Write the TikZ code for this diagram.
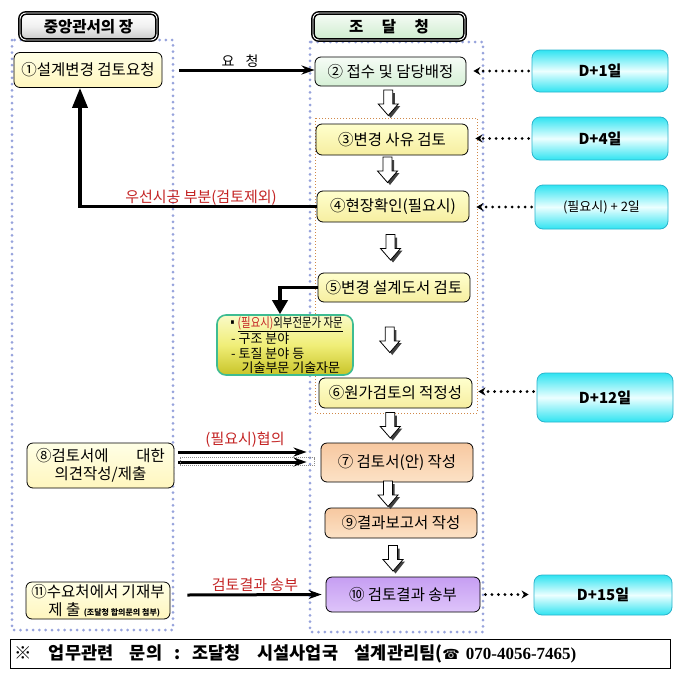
\documentclass[tikz,border=0pt]{standalone}
\usepackage{fontspec}
\setmainfont{Noto Sans CJK KR}
\newfontfamily\serifb{Liberation Serif}
\newfontfamily\symf{DejaVu Sans}
\usetikzlibrary{arrows.meta,calc}
\definecolor{dotblue}{HTML}{97A3DC}
\definecolor{dotorange}{HTML}{D08848}
\definecolor{cyanE}{HTML}{2FE3F1}
\definecolor{cyanB}{HTML}{2AB4CC}
\definecolor{labred}{HTML}{C42424}
\definecolor{grnB}{HTML}{3EBC92}
\tikzset{
  box/.style={draw=black, line width=0.8pt, rounded corners=6pt, align=center, inner sep=0pt,
              font=\fontsize{15.5}{18}\selectfont},
  pale/.style={box, top color={rgb,255:red,255;green,255;blue,230}, bottom color={rgb,255:red,255;green,246;blue,190}},
  ylw/.style={box, top color={rgb,255:red,255;green,255;blue,205}, bottom color={rgb,255:red,246;green,238;blue,160}},
  grn/.style={box, top color={rgb,255:red,246;green,252;blue,246}, bottom color={rgb,255:red,214;green,240;blue,214}},
  org/.style={box, top color={rgb,255:red,247;green,200;blue,160}, bottom color={rgb,255:red,252;green,226;blue,198}},
  prp/.style={box, top color={rgb,255:red,198;green,158;blue,242}, bottom color={rgb,255:red,222;green,196;blue,250}},
  cyanbox/.style={draw=cyanB, line width=0.8pt, rounded corners=8pt, align=center, inner sep=0pt,
              top color=cyanE, bottom color=cyanE, middle color={rgb,255:red,236;green,255;blue,255},
              font=\fontsize{15}{18}\selectfont\bfseries},
  header/.style={draw=black, line width=1.5pt, double=white, double distance=0.9pt, rounded corners=6pt,
              inner sep=0pt, font=\fontsize{15.5}{18}\selectfont\bfseries},
  dotcol/.style={dotblue, line width=3pt, line cap=round, dash pattern=on 0pt off 6.3pt},
  dotarrow/.style={line width=3.2pt, line cap=round, dash pattern=on 0pt off 6.5pt,
              -{Stealth[length=7pt,width=8pt]}},
  flowarrow/.style={line width=3pt, -{Stealth[length=13pt,width=9pt]}},
  bigarrow/.style={line width=3.6pt, -{Triangle[length=20pt,width=15pt]}},
  redlab/.style={text=labred, font=\fontsize{15}{17}\selectfont, inner sep=1pt},
  dnarrow/.pic={
    \fill[black!75] (-1.5,-10) -- (6.5,-10) -- (6.5,3) -- (12,3) -- (2.5,15) -- (-7,3) -- (-1.5,3) -- cycle;
    \draw[fill=white, line width=0.8pt, line join=miter] (-4.5,-13) -- (4.5,-13) -- (4.5,1) -- (10,1) -- (0,12.5) -- (-10,1) -- (-4.5,1) -- cycle;
  }
}
\begin{document}
\begin{tikzpicture}[x=1pt,y=-1pt]
\useasboundingbox[fill=white] (0,0) rectangle (683,675);

% columns
\draw[dotcol] (12,40) rectangle (173,630);
\draw[dotcol] (310,42) rectangle (483,632);
\draw[dotorange, line width=0.9pt, dash pattern=on 1pt off 2pt] (315,118) rectangle (477,413);

% headers
\node[header, minimum width=137pt, minimum height=27pt, top color=white, bottom color=black!22, middle color=black!6] (h1) at (88.5,26.5) {중앙관서의 장};
\node[header, minimum width=152pt, minimum height=27pt, top color={rgb,255:red,246;green,252;blue,246}, bottom color={rgb,255:red,206;green,236;blue,206}] (h2) at (389,26.5) {조\hspace{1.2em}달\hspace{1.2em}청};

% left column
\node[pale, minimum width=148pt, minimum height=35pt] (n1) at (88,70) {①설계변경 검토요청};
\node[pale, minimum width=147pt, minimum height=45pt] (n8) at (100.5,465.5) {⑧검토서에\hspace{1.8em}대한\\의견작성/제출};
\node[pale, minimum width=144pt, minimum height=37pt] (n11) at (98,600.5) {⑪수요처에서 기재부\\\hspace*{0.8em}제 출 {\fontsize{8}{9}\selectfont\bfseries(조달청 합의문의 첨부)}};

% middle column
\node[grn, minimum width=151pt, minimum height=29pt] (n2) at (390.5,71.5) {② 접수 및 담당배정};
\node[ylw, minimum width=152pt, minimum height=31pt] (n3) at (392,139.5) {③변경 사유 검토};
\node[ylw, minimum width=152pt, minimum height=31pt] (n4) at (393,206.5) {④현장확인(필요시)};
\node[ylw, minimum width=152pt, minimum height=29pt] (n5) at (394,287.5) {⑤변경 설계도서 검토};
\node[ylw, minimum width=153pt, minimum height=30pt] (n6) at (395.5,393) {⑥원가검토의 적정성};
\node[org, minimum width=152pt, minimum height=39pt] (n7) at (397,462.5) {⑦ 검토서(안) 작성};
\node[org, minimum width=152pt, minimum height=30pt] (n9) at (401,523) {⑨결과보고서 작성};
\node[prp, minimum width=154pt, minimum height=35pt] (n10) at (403,594.5) {⑩ 검토결과 송부};

% block arrows
\pic at ($(n2.south)!0.5!(n3.north)+(-3,-2)$) {dnarrow};
\pic at ($(n3.south)!0.5!(n4.north)+(-5,-3)$) {dnarrow};
\pic at ($(n4.south)!0.5!(n5.north)+(-3,0)$) {dnarrow};
\pic at ($(n5.south)!0.5!(n6.north)+(-5,0)$) {dnarrow};
\pic at ($(n6.south)!0.5!(n7.north)+(-6,0)$) {dnarrow};
\pic at ($(n7.south)!0.5!(n9.north)+(-11,-1)$) {dnarrow};
\pic at ($(n9.south)!0.5!(n10.north)+(-9,1)$) {dnarrow};

% green note
\node[draw=grnB, line width=1.6pt, rounded corners=9pt, top color={rgb,255:red,250;green,250;blue,200}, bottom color={rgb,255:red,200;green,196;blue,40}, middle color={rgb,255:red,240;green,238;blue,120},
      minimum width=136pt, minimum height=60pt, align=left, inner sep=0pt, font=\fontsize{13}{14.3}\selectfont] (g) at (285,345)
  {\scalebox{0.8}[1]{▪\underline{\textcolor{labred}{(필요시)}외부전문가 자문}}\\\hspace*{0.3em}- 구조 분야\\\hspace*{0.3em}- 토질 분야 등\\\hspace*{1.1em}기술부문 기술자문};

% right column
\node[cyanbox, minimum width=136pt, minimum height=42pt] (c1) at (600,71) {D+1일};
\node[cyanbox, minimum width=136pt, minimum height=43pt] (c2) at (600,138.5) {D+4일};
\node[cyanbox, minimum width=133pt, minimum height=44pt, font=\fontsize{13}{15}\selectfont] (c3) at (601.5,207) {(필요시) + 2일};
\node[cyanbox, minimum width=136pt, minimum height=49pt] (c4) at (605,397.5) {D+12일};
\node[cyanbox, minimum width=138pt, minimum height=40pt] (c5) at (603,595) {D+15일};

% bottom bar
\node[draw=black, line width=0.8pt, minimum width=660pt, minimum height=29pt, inner sep=0pt] (bar) at (340,653.5) {};
\node[anchor=west, inner sep=0pt, font=\fontsize{17.5}{19}\selectfont\bfseries] (bartext) at ($(bar.west)+(5,0)$)
  {※\hspace{0.95em}업무관련\hspace{0.95em}문의\hspace{0.7em}:\hspace{0.7em}조달청\hspace{0.95em}시설사업국\hspace{0.95em}설계관리팀({\symf\fontsize{14}{16}\selectfont ☎}\hspace{0.35em}{\serifb\bfseries\fontsize{17}{18}\selectfont 070-4056-7465)}};

% connectors
\draw[flowarrow] ($(n1.east)+(17,0)$) -- (n1.east -| n2.west);
\node[inner sep=1pt, font=\fontsize{14}{16}\selectfont] (lreq) at (240,61) {요\hspace{0.8em}청};

\draw[bigarrow] (n4.west) -| ($(n1.south)+(-8,0)$);
\node[redlab] (lpri) at (201,198) {우선시공 부분(검토제외)};

\draw[bigarrow, -{Triangle[length=14pt,width=15pt]}] (n5.west) -| ($(g.north)+(-5,0)$);

\draw[flowarrow] ($(n8.east)+(4,-13.5)$) -- ($(n7.west)+(-14,-10.5)$);
\draw[flowarrow] ($(n8.east)+(4,-3.5)$) -- ($(n7.west)+(-14,-0.5)$);
\draw[black!45, line width=0.5pt, dash pattern=on 1pt off 1pt] ($(n8.east)+(6,-8)$) rectangle ($(n7.west)+(-6,3)$);
\node[redlab] (lcons) at (245,440) {(필요시)협의};

\draw[flowarrow] ($(n11.east)+(17,-5.5)$) -- ($(n10.west)+(-4,0)$);
\node[redlab] (lsend) at (255,585) {검토결과 송부};

\draw[dotarrow] ($(c1.west)+(-3,0)$) -- ($(c1.west -| n2.east)+(7,0)$);
\draw[dotarrow] ($(c2.west)+(-3,0)$) -- ($(c2.west -| n3.east)+(7,0)$);
\draw[dotarrow] ($(c3.west)+(-3,0)$) -- ($(c3.west -| n4.east)+(7,0)$);
\draw[dotarrow] ($(c4.west)+(-3,-6)$) -- ($(c4.west -| n6.east)+(6,-6)$);
\draw[dotarrow] ($(n10.east)+(5,0)$) -- ($(n10.east -| c5.west)+(-5,0)$);
\end{tikzpicture}
\end{document}
